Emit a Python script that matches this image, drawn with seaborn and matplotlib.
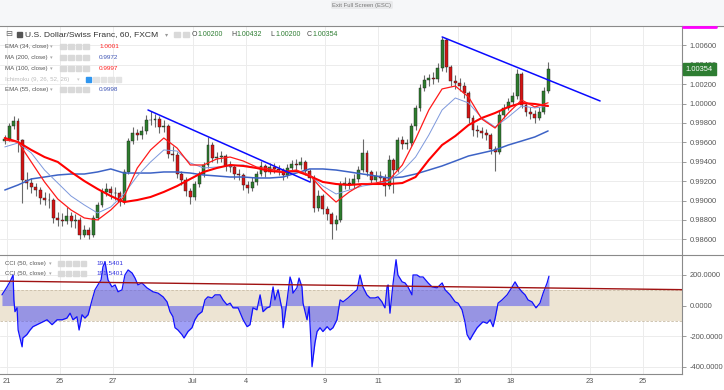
import numpy as np
import seaborn as sns
import matplotlib
matplotlib.use("Agg")
import matplotlib.pyplot as plt
from matplotlib.patches import Rectangle
from matplotlib.lines import Line2D

# ---- data (USD/CHF, 4h steps, x = trading days since 21 Jun) ----
first_open = 0.99610
close = [0.99635, 0.99769, 0.99821, 0.99625, 0.99212, 0.99181, 0.99140, 0.99109, 0.99027, 0.99006,
         0.99006, 0.98821, 0.98800, 0.98790, 0.98841, 0.98790, 0.98800, 0.98645, 0.98697, 0.98645,
         0.98821, 0.98955, 0.99089, 0.99120, 0.99078, 0.99078, 0.98985, 0.99295, 0.99614, 0.99697,
         0.99676, 0.99718, 0.99831, 0.99831, 0.99841, 0.99759, 0.99769, 0.99480, 0.99470, 0.99274,
         0.99212, 0.99099, 0.99037, 0.99171, 0.99274, 0.99367, 0.99573, 0.99439, 0.99449, 0.99460,
         0.99357, 0.99346, 0.99274, 0.99264, 0.99161, 0.99130, 0.99192, 0.99274, 0.99357, 0.99295,
         0.99346, 0.99326, 0.99315, 0.99264, 0.99336, 0.99377, 0.99367, 0.99398, 0.99305, 0.99233,
         0.98924, 0.99047, 0.98913, 0.98862, 0.98759, 0.98800, 0.99161, 0.99181, 0.99171, 0.99223,
         0.99315, 0.99491, 0.99295, 0.99212, 0.99254, 0.99233, 0.99150, 0.99419, 0.99315, 0.99625,
         0.99583, 0.99594, 0.99769, 0.99955, 1.00161, 1.00243, 1.00264, 1.00254, 1.00367, 1.00656,
         1.00377, 1.00233, 1.00212, 1.00181, 1.00109, 0.99852, 0.99728, 0.99718, 0.99697, 0.99676,
         0.99532, 0.99501, 0.99882, 0.99955, 1.00016, 1.00078, 1.00305, 0.99986, 0.99913, 0.99893,
         0.99852, 0.99913, 1.00130, 1.00354]
high = [0.99680, 0.99800, 0.99870, 0.99850, 0.99640, 0.99290, 0.99230, 0.99180, 0.99140, 0.99090,
        0.99080, 0.99030, 0.98880, 0.98870, 0.98930, 0.98880, 0.98860, 0.98830, 0.98750, 0.98730,
        0.98850, 0.98990, 0.99130, 0.99180, 0.99150, 0.99140, 0.99100, 0.99330, 0.99650, 0.99760,
        0.99740, 0.99770, 0.99880, 0.99920, 0.99890, 0.99870, 0.99830, 0.99790, 0.99560, 0.99500,
        0.99300, 0.99240, 0.99130, 0.99200, 0.99310, 0.99400, 0.99660, 0.99600, 0.99500, 0.99510,
        0.99480, 0.99410, 0.99370, 0.99330, 0.99280, 0.99200, 0.99240, 0.99310, 0.99410, 0.99380,
        0.99390, 0.99390, 0.99370, 0.99340, 0.99380, 0.99420, 0.99430, 0.99450, 0.99420, 0.99330,
        0.99260, 0.99110, 0.99070, 0.98940, 0.98880, 0.98850, 0.99200, 0.99240, 0.99230, 0.99270,
        0.99360, 0.99640, 0.99520, 0.99320, 0.99300, 0.99300, 0.99270, 0.99470, 0.99440, 0.99660,
        0.99670, 0.99640, 0.99800, 0.99990, 1.00200, 1.00290, 1.00310, 1.00330, 1.00420, 1.00690,
        1.00680, 1.00400, 1.00290, 1.00260, 1.00220, 1.00130, 0.99880, 0.99780, 0.99760, 0.99740,
        0.99700, 0.99560, 0.99920, 1.00000, 1.00060, 1.00120, 1.00360, 1.00330, 1.00020, 0.99960,
        0.99930, 0.99960, 1.00170, 1.00432]
low = [0.99580, 0.99610, 0.99740, 0.99500, 0.98970, 0.99120, 0.99080, 0.99050, 0.98960, 0.98950,
       0.98920, 0.98770, 0.98740, 0.98740, 0.98760, 0.98730, 0.98720, 0.98600, 0.98620, 0.98600,
       0.98620, 0.98800, 0.98930, 0.99050, 0.99020, 0.99010, 0.98940, 0.98960, 0.99270, 0.99580,
       0.99620, 0.99640, 0.99690, 0.99780, 0.99760, 0.99700, 0.99710, 0.99440, 0.99410, 0.99230,
       0.99160, 0.99050, 0.98960, 0.99010, 0.99140, 0.99240, 0.99340, 0.99400, 0.99390, 0.99400,
       0.99300, 0.99290, 0.99220, 0.99210, 0.99110, 0.99080, 0.99100, 0.99160, 0.99250, 0.99240,
       0.99270, 0.99280, 0.99260, 0.99210, 0.99230, 0.99300, 0.99320, 0.99330, 0.99260, 0.99190,
       0.98880, 0.98890, 0.98860, 0.98800, 0.98600, 0.98700, 0.98780, 0.99120, 0.99120, 0.99130,
       0.99190, 0.99290, 0.99250, 0.99170, 0.99190, 0.99180, 0.99050, 0.99120, 0.99080, 0.99290,
       0.99530, 0.99530, 0.99560, 0.99730, 0.99920, 1.00130, 1.00180, 1.00200, 1.00220, 1.00340,
       1.00330, 1.00180, 1.00150, 1.00130, 1.00060, 0.99800, 0.99670, 0.99660, 0.99650, 0.99620,
       0.99480, 0.99300, 0.99480, 0.99850, 0.99930, 0.99990, 1.00050, 0.99950, 0.99870, 0.99840,
       0.99800, 0.99830, 0.99890, 1.00110]

# moving averages, one value every third bar
ema34 = [0.99625, 0.99604, 0.99398, 0.99192, 0.99016, 0.98903, 0.98821, 0.98800, 0.98903, 0.99037,
         0.99336, 0.99522, 0.99645, 0.99542, 0.99367, 0.99367, 0.99429, 0.99449, 0.99408, 0.99346,
         0.99326, 0.99295, 0.99315, 0.99264, 0.99109, 0.98985, 0.99089, 0.99171, 0.99181, 0.99212,
         0.99367, 0.99635, 0.99934, 1.00151, 1.00181, 1.00068, 0.99841, 0.99748, 0.99903, 1.00037,
         0.99965, 1.00008]
ma200 = [0.99109, 0.99161, 0.99223, 0.99243, 0.99264, 0.99274, 0.99274, 0.99295, 0.99326, 0.99284,
         0.99284, 0.99284, 0.99295, 0.99295, 0.99284, 0.99264, 0.99254, 0.99243, 0.99243, 0.99233,
         0.99233, 0.99243, 0.99284, 0.99326, 0.99326, 0.99315, 0.99295, 0.99274, 0.99254, 0.99233,
         0.99243, 0.99274, 0.99315, 0.99357, 0.99408, 0.99460, 0.99491, 0.99522, 0.99573, 0.99614,
         0.99656, 0.99718]
ma100 = [0.99645, 0.99604, 0.99522, 0.99449, 0.99398, 0.99295, 0.99202, 0.99120, 0.99047, 0.98985,
         0.99006, 0.99037, 0.99089, 0.99150, 0.99223, 0.99295, 0.99336, 0.99367, 0.99357, 0.99336,
         0.99305, 0.99295, 0.99305, 0.99254, 0.99192, 0.99171, 0.99161, 0.99171, 0.99171, 0.99171,
         0.99181, 0.99243, 0.99419, 0.99573, 0.99666, 0.99779, 0.99852, 0.99903, 0.99965, 1.00006,
         0.99996, 0.99975]
ema55 = [0.99553, 0.99594, 0.99491, 0.99315, 0.99181, 0.99047, 0.98955, 0.98872, 0.98934, 0.99068,
         0.99254, 0.99398, 0.99522, 0.99511, 0.99388, 0.99336, 0.99346, 0.99357, 0.99367, 0.99336,
         0.99305, 0.99295, 0.99295, 0.99264, 0.99150, 0.99068, 0.99109, 0.99150, 0.99171, 0.99202,
         0.99305, 0.99449, 0.99676, 0.99934, 1.00058, 1.00006, 0.99852, 0.99759, 0.99862, 0.99975,
         0.99955, 0.99975]

trend1_days = [5.32, 11.43]
trend1_prices = [0.99934, 0.99192]
trend2_days = [16.42, 22.38]
trend2_prices = [1.00687, 1.00027]

cci_days = [-0.19, 0.00, 0.11, 0.23, 0.26, 0.30, 0.38, 0.42, 0.57, 0.60,
            0.75, 0.87, 0.98, 1.25, 1.51, 1.70, 1.89, 2.08, 2.26, 2.38,
            2.49, 2.64, 2.72, 2.83, 2.94, 3.06, 3.21, 3.32, 3.43, 3.55,
            3.62, 3.70, 3.77, 3.81, 3.96, 4.08, 4.19, 4.34, 4.45, 4.57,
            4.72, 4.83, 4.94, 5.09, 5.28, 5.51, 5.70, 5.89, 6.04, 6.15,
            6.26, 6.34, 6.45, 6.60, 6.68, 6.83, 6.98, 7.09, 7.21, 7.36,
            7.47, 7.58, 7.74, 7.85, 8.04, 8.15, 8.30, 8.42, 8.53, 8.72,
            8.91, 9.06, 9.17, 9.28, 9.43, 9.55, 9.66, 9.81, 9.92, 10.04,
            10.11, 10.23, 10.38, 10.42, 10.57, 10.68, 10.75, 10.79, 10.94, 11.02,
            11.13, 11.17, 11.32, 11.40, 11.47, 11.51, 11.62, 11.70, 11.81, 11.92,
            12.08, 12.19, 12.30, 12.45, 12.57, 12.68, 12.87, 13.06, 13.21, 13.32,
            13.43, 13.58, 13.70, 13.89, 14.00, 14.15, 14.26, 14.34, 14.38, 14.45,
            14.57, 14.68, 14.75, 14.91, 15.02, 15.13, 15.28, 15.32, 15.47, 15.58,
            15.70, 15.89, 16.04, 16.23, 16.42, 16.53, 16.72, 16.91, 17.02, 17.17,
            17.28, 17.36, 17.47, 17.58, 17.74, 17.85, 17.96, 18.11, 18.23, 18.34,
            18.42, 18.53, 18.68, 18.87, 19.06, 19.17, 19.28, 19.43, 19.55, 19.66,
            19.81, 19.96, 20.11, 20.23, 20.38, 20.45]
cci_vals = [70, 122, 155, 200, 37, -40, -15, -160, -270, -212,
            -190, -160, -138, -115, -93, -125, -93, -93, -82, -50,
            -93, -73, -160, -60, -82, -60, 37, 103, 135, 168,
            253, 286, 213, 168, 122, 135, 90, 103, 200, 233,
            213, 180, 135, 148, 116, 90, 81, 57, 24, -40,
            -73, -145, -160, -190, -212, -170, -145, -93, -60, -40,
            37, 57, 50, 70, 70, 37, 5, 16, -15, -15,
            -93, -138, -125, -15, -28, 70, -40, -15, -8, 122,
            37, 103, -28, -145, 37, 187, 148, 81, 116, 180,
            122, 16, -93, -8, -245, -400, -245, -170, -145, -170,
            -138, -160, -145, -93, 37, 24, 50, 81, 103, 200,
            122, 70, 50, 50, 57, 24, -15, 122, 135, -50,
            148, 300, 200, 155, 148, 122, 70, 200, 200, 187,
            187, 148, 122, 116, 148, 103, 70, 24, 16, -28,
            -106, -190, -224, -190, -145, -125, -106, -116, -93, -138,
            -82, 16, 37, 70, 122, 155, 122, 90, 70, 37,
            24, -15, 16, 81, 148, 192]
cci_trend_days = [-0.26, 25.47]
cci_trend_vals = [160, 104]

tick_days = [0, 2, 4, 7, 9, 12, 14, 17, 19, 22, 24]
tick_labels = ["21", "25", "27", "Jul", "4", "9", "11", "16", "18", "23", "25"]
price_ticks = [0.986, 0.988, 0.990, 0.992, 0.994, 0.996, 0.998, 1.000, 1.002, 1.004, 1.006]
cci_ticks = [200, 0, -200, -400]

# ---- layout helpers (pixel -> figure fraction) ----
W, H = 724, 390


def fx(x):
    return x / W


def fy(y):
    return 1 - y / H


sns.set_theme(style="white")
plt.rcParams['font.family'] = ['Liberation Sans', 'DejaVu Sans']

fig = plt.figure(figsize=(7.24, 3.9), dpi=100)
fig.patch.set_facecolor("white")
fig.patches.append(Rectangle((0, fy(25.7)), 1, 25.7 / H, transform=fig.transFigure,
                             color="#f6f7f9", zorder=-1))

ax = fig.add_axes([0, fy(255), fx(682), (255 - 25.7) / H])
axc = fig.add_axes([0, fy(374), fx(682), (374 - 255) / H])

# ---- price pane ----
close = np.array(close)
high = np.array(high)
low = np.array(low)
bar_days = (np.arange(len(close)) - 0.5) / 6
opens = np.r_[first_open, close[:-1]]
body_col = np.where(close >= opens, "#2e7d2e", "#d41414")

ax.vlines(bar_days, low, high, color="#6a6a6a", lw=0.8, zorder=2)
ax.bar(bar_days, np.abs(close - opens), bottom=np.minimum(opens, close), width=0.11,
       color=body_col, edgecolor="#1e1e1e", linewidth=0.3, zorder=3)

ma_days = bar_days[::3]
sns.lineplot(x=ma_days, y=ma200, ax=ax, color="#3d63c6", lw=1.1, zorder=4, legend=False)
sns.lineplot(x=ma_days, y=ema55, ax=ax, color="#7d98dc", lw=0.7, zorder=4, legend=False)
sns.lineplot(x=ma_days, y=ma100, ax=ax, color="#ff0000", lw=1.5, zorder=5, legend=False)
sns.lineplot(x=ma_days, y=ema34, ax=ax, color="#ff1a1a", lw=0.9, zorder=5, legend=False)
sns.lineplot(x=trend1_days, y=trend1_prices, ax=ax, color="#0a0aff", lw=1.1, zorder=6, legend=False)
sns.lineplot(x=trend2_days, y=trend2_prices, ax=ax, color="#0a0aff", lw=1.1, zorder=6, legend=False)

ax.set_xlim(-0.264, 25.47)
ax.set_ylim(0.98439, 1.00803)
ax.set_xticks(tick_days)
ax.set_yticks(price_ticks)
ax.set_yticklabels([f"{v:.5f}" for v in price_ticks])
ax.yaxis.tick_right()
ax.grid(True, color="#ececec", lw=0.7)
ax.set_axisbelow(True)
ax.tick_params(axis="x", length=0, labelbottom=False)
ax.tick_params(axis="y", direction="out", length=3, width=0.6, color="#8a8a8a",
               labelsize=5.4, labelcolor="#555555", pad=2.5)
ax.set_xlabel("")
ax.set_ylabel("")
for side in ["left", "bottom"]:
    ax.spines[side].set_visible(False)
for side in ["top", "right"]:
    ax.spines[side].set_color("#8a8a8a")
    ax.spines[side].set_linewidth(0.8)

# ---- CCI pane ----
axc.axhspan(-100, 100, color="#ede4d3", zorder=0.6, lw=0)
axc.axhline(100, color="#c8bca6", lw=0.6, ls=(0, (3, 2)), zorder=0.7)
axc.axhline(-100, color="#c8bca6", lw=0.6, ls=(0, (3, 2)), zorder=0.7)
axc.fill_between(cci_days, cci_vals, 0, color="#5a5af0", alpha=0.58, lw=0, zorder=2)
sns.lineplot(x=cci_days, y=cci_vals, ax=axc, color="#1010ff", lw=0.9, zorder=3, legend=False)
sns.lineplot(x=cci_trend_days, y=cci_trend_vals, ax=axc, color="#a01212", lw=1.0, zorder=4, legend=False)

axc.set_xlim(-0.264, 25.47)
axc.set_ylim(-447.7, 330.7)
axc.set_yticks(cci_ticks)
axc.set_yticklabels([f"{v:.4f}" for v in cci_ticks])
axc.yaxis.tick_right()
axc.set_xticks(tick_days)
axc.set_xticklabels(tick_labels)
axc.grid(True, color="#ececec", lw=0.7)
axc.set_axisbelow(True)
axc.tick_params(axis="x", length=0, labelsize=5.3, labelcolor="#555555", pad=3)
axc.tick_params(axis="y", direction="out", length=3, width=0.6, color="#8a8a8a",
                labelsize=5.4, labelcolor="#555555", pad=2.5)
axc.set_xlabel("")
axc.set_ylabel("")
axc.spines["left"].set_visible(False)
for side in ["top", "bottom", "right"]:
    axc.spines[side].set_color("#8a8a8a")
    axc.spines[side].set_linewidth(0.8)

# separators running into the price scale
for yy in [25.7, 255]:
    fig.add_artist(Line2D([fx(682), 1], [fy(yy), fy(yy)], color="#8a8a8a", lw=0.8))
fig.add_artist(Line2D([fx(682.5), fx(716)], [fy(27), fy(27)], color="#ff00ff", lw=2))

# last price tag
fig.patches.append(Rectangle((fx(682.5), fy(75)), fx(716) - fx(682.5), 12 / H,
                             transform=fig.transFigure, color="#2e7d32", zorder=5))
fig.text(fx(699), fy(69.3), "1.00354", color="white", fontsize=5.4,
         ha="center", va="center", zorder=6)

# header
fig.text(fx(362), fy(5), "Exit Full Screen (ESC)", color="#777777", fontsize=4.2,
         ha="center", va="center",
         bbox=dict(boxstyle="round,pad=0.25", fc="#e9eaec", ec="none"))


def box(x, y, col="#d9d9d9", size=5.5):
    fig.patches.append(Rectangle((fx(x), fy(y + size / 2)), size / W, size / H,
                                 transform=fig.transFigure, color=col, zorder=5))


# title row
fig.text(fx(5), fy(34.5), "\u229f", color="#666666", fontsize=6, va="center")
box(17, 34.5, "#555555", 4.5)
fig.text(fx(25), fy(34.5), "U.S. Dollar/Swiss Franc, 60, FXCM", color="#333333",
         fontsize=6.1, va="center")
fig.text(fx(165), fy(34.5), "\u25be", color="#999999", fontsize=4.5, va="center")
box(174, 34.5)
box(183, 34.5)
ohlc = [("O", "1.00200", 192), ("H", "1.00432", 231), ("L", "1.00200", 270), ("C", "1.00354", 307)]
for letter, val, xx in ohlc:
    fig.text(fx(xx), fy(34.5), letter, color="#444444", fontsize=5.0, va="center")
    fig.text(fx(xx + 5.5), fy(34.5), val, color="#2e7d32", fontsize=5.0, va="center")

# indicator legends
legend_rows = [("EMA (34, close)", "1.0001", "#ff2020", 46.7),
               ("MA (200, close)", "0.9972", "#3f55b5", 57.3),
               ("MA (100, close)", "0.9997", "#ff2020", 68.3),
               ("EMA (55, close)", "0.9998", "#3f55b5", 89.3)]
for name, val, col, yy in legend_rows:
    fig.text(fx(5), fy(yy), name, color="#555555", fontsize=4.4, va="center")
    fig.text(fx(50), fy(yy), "\u25be", color="#aaaaaa", fontsize=3.8, va="center")
    for bx in [60.5, 68, 75.5, 83]:
        box(bx, yy)
    fig.text(fx(99), fy(yy), val, color=col, fontsize=4.6, va="center")

fig.text(fx(5), fy(79.3), "Ichimoku (9, 26, 52, 26)", color="#bdbdbd", fontsize=4.4, va="center")
fig.text(fx(77), fy(79.3), "\u25be", color="#cccccc", fontsize=3.8, va="center")
box(85.5, 79.3, "#2f96f0")
for bx in [93, 100.5, 108, 115.5]:
    box(bx, 79.3, "#e3e3e3")

for yy in [263.3, 273.3]:
    fig.text(fx(5), fy(yy), "CCI (50, close)", color="#555555", fontsize=4.4, va="center")
    fig.text(fx(49), fy(yy), "\u25be", color="#aaaaaa", fontsize=3.8, va="center")
    for bx in [58, 65.5, 73, 80.5]:
        box(bx, yy)
    fig.text(fx(96), fy(yy), "191.5401", color="#3030e0", fontsize=4.6, va="center")

fig.savefig("out.png", dpi=100, facecolor=fig.get_facecolor())
